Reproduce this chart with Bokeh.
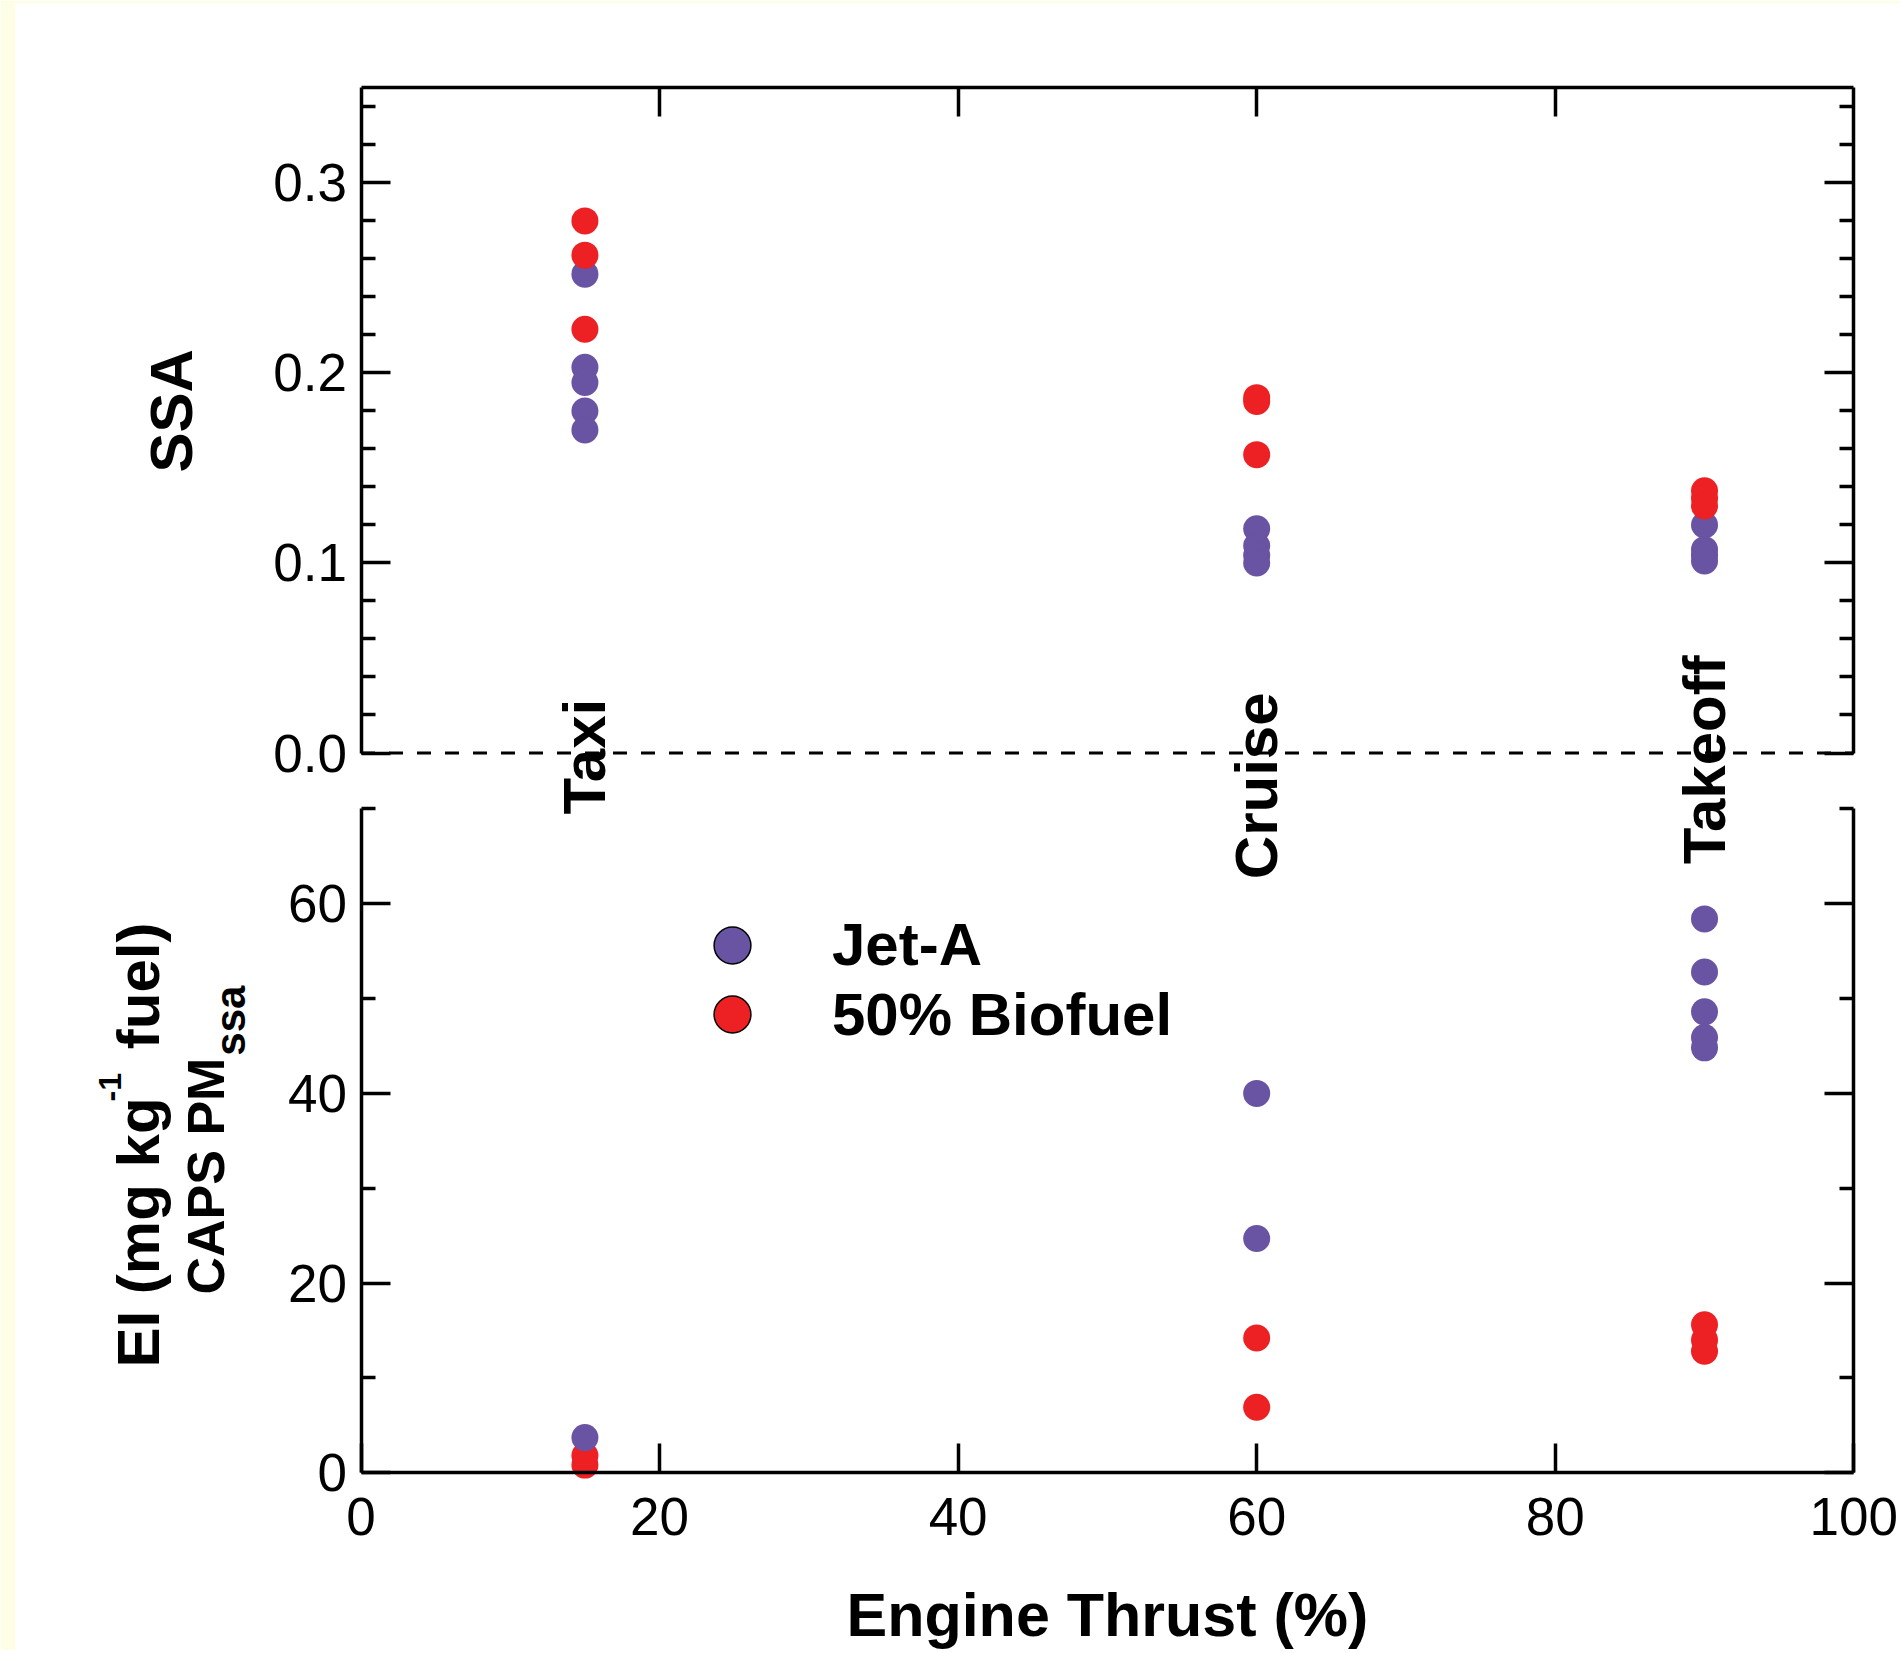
from bokeh.plotting import figure
from bokeh.models import (Range1d, LinearAxis, FixedTicker, CustomJSTickFormatter,
                          PrintfTickFormatter, BoxAnnotation, Label, Legend, LegendItem,
                          ColumnDataSource)
from bokeh.embed import file_html
from bokeh.resources import INLINE
import math

# ---------------- data ----------------
mode_names = ["Taxi", "Cruise", "Takeoff"]
mode_thrust = [15, 60, 90]

# SSA (upper panel)
ssa_jet_taxi = [0.252, 0.203, 0.195, 0.180, 0.170]
ssa_jet_cruise = [0.118, 0.109, 0.104, 0.100]
ssa_jet_takeoff = [0.120, 0.107, 0.104, 0.101]
ssa_bio_taxi = [0.280, 0.262, 0.223]
ssa_bio_cruise = [0.187, 0.185, 0.157]
ssa_bio_takeoff = [0.138, 0.134, 0.130]

# EI of CAPS PM_ssa, mg per kg fuel (lower panel)
ei_jet_taxi = [3.7]
ei_jet_cruise = [40.0, 24.7]
ei_jet_takeoff = [58.4, 52.8, 48.6, 45.9, 44.8]
ei_bio_taxi = [1.8, 0.8]
ei_bio_cruise = [14.2, 6.9]
ei_bio_takeoff = [15.6, 14.0, 12.8]

x_ticks = [0, 20, 40, 60, 80, 100]
x_inner_ticks = [20, 40, 60, 80]
ssa_major_ticks = [0.0, 0.1, 0.2, 0.3]
ssa_minor_ticks = [0.02, 0.04, 0.06, 0.08, 0.12, 0.14, 0.16, 0.18,
                   0.22, 0.24, 0.26, 0.28, 0.32, 0.34]
ei_major_ticks = [0, 20, 40, 60]
ei_minor_ticks = [10, 30, 50, 70]

series_labels = ["Jet-A", "50% Biofuel"]

# ---------------- style / layout ----------------
JET_COLOR = "#6953A3"
BIO_COLOR = "#ED2024"
EDGE_COLOR = "#FEFEE6"
FONT = "Liberation Sans"
LW = 3.5

W, H = 1900, 1650
X_MIN, X_MAX = 0, 100
SSA_MAX = 0.35
EI_MAX = 70
# pixel positions of the panel edges on the page
PX_X0, PX_X100 = 360.5, 1853.3
PX_EI0, PX_EITOP = 1472.2, 808.4
PX_SSA0, PX_SSATOP = 752.5, 87.4

x_per = (PX_X100 - PX_X0) / (X_MAX - X_MIN)
ei_per = (PX_EI0 - PX_EITOP) / EI_MAX
ssa_per = (PX_SSA0 - PX_SSATOP) / SSA_MAX

x_range = Range1d(X_MIN - PX_X0 / x_per, X_MAX + (W - PX_X100) / x_per)
ei_range = Range1d(-(H - PX_EI0) / ei_per, PX_EI0 / ei_per)
ssa_range = Range1d(-(H - PX_SSA0) / ssa_per, PX_SSA0 / ssa_per)

p = figure(width=W, height=H, x_range=x_range, y_range=ei_range,
           output_backend="svg", toolbar_location=None,
           x_axis_location=None, y_axis_location=None,
           min_border=0, min_border_left=0, min_border_right=0,
           min_border_top=0, min_border_bottom=0)
p.extra_y_ranges = {"ssa": ssa_range}
p.outline_line_color = None
p.background_fill_color = "white"
p.border_fill_color = "white"
p.grid.visible = False

# pale page edge of the original figure
p.add_layout(BoxAnnotation(right=x_range.start + 15 / x_per, fill_color=EDGE_COLOR,
                           fill_alpha=1, line_color=None, level="underlay"))
p.add_layout(BoxAnnotation(bottom=ei_range.end - 3 / ei_per, fill_color=EDGE_COLOR,
                           fill_alpha=1, line_color=None, level="underlay"))

tick_kw = dict(major_tick_in=29, major_tick_out=0, minor_tick_in=14, minor_tick_out=0,
               major_tick_line_width=LW, minor_tick_line_width=LW,
               major_tick_line_color="black", minor_tick_line_color="black",
               axis_line_width=LW, axis_line_color="black",
               major_label_text_font=FONT, major_label_text_font_size="53px",
               major_label_text_color="black")
blank_fmt = CustomJSTickFormatter(code="return '';")

ei_ticker = FixedTicker(ticks=ei_major_ticks, minor_ticks=ei_minor_ticks)
ssa_ticker = FixedTicker(ticks=ssa_major_ticks, minor_ticks=ssa_minor_ticks)
x_ticker = FixedTicker(ticks=x_ticks, minor_ticks=[])
x_inner_ticker = FixedTicker(ticks=x_inner_ticks, minor_ticks=[])

# lower panel (EI)
p.add_layout(LinearAxis(ticker=ei_ticker, fixed_location=X_MIN, bounds=(0, EI_MAX),
                        major_label_standoff=14, **tick_kw), "left")
p.add_layout(LinearAxis(ticker=ei_ticker, formatter=blank_fmt, fixed_location=X_MAX,
                        bounds=(0, EI_MAX), major_label_standoff=0, **tick_kw), "right")
p.add_layout(LinearAxis(ticker=x_ticker, fixed_location=0, bounds=(X_MIN, X_MAX),
                        major_label_standoff=25, **tick_kw), "below")

# upper panel (SSA)
p.add_layout(LinearAxis(ticker=ssa_ticker, formatter=PrintfTickFormatter(format="%.1f"),
                        y_range_name="ssa", fixed_location=X_MIN, bounds=(0, SSA_MAX),
                        major_label_standoff=14, **tick_kw), "left")
p.add_layout(LinearAxis(ticker=ssa_ticker, formatter=blank_fmt, y_range_name="ssa",
                        fixed_location=X_MAX, bounds=(0, SSA_MAX),
                        major_label_standoff=0, **tick_kw), "right")
p.add_layout(LinearAxis(ticker=x_inner_ticker, formatter=blank_fmt, y_range_name="ssa",
                        fixed_location=SSA_MAX, bounds=(X_MIN, X_MAX),
                        major_label_standoff=0, **tick_kw), "above")

# dashed zero line of the SSA panel
zero_line = ColumnDataSource(dict(x0=[X_MIN], y0=[0], x1=[X_MAX], y1=[0]))
p.segment("x0", "y0", "x1", "y1", source=zero_line, y_range_name="ssa",
          line_color="black", line_width=3, line_dash="14 14")


def xs_for(vals_by_mode):
    xs, ys = [], []
    for thrust, vals in zip(mode_thrust, vals_by_mode):
        xs += [thrust] * len(vals)
        ys += vals
    return xs, ys


sx_j, sy_j = xs_for([ssa_jet_taxi, ssa_jet_cruise, ssa_jet_takeoff])
sx_b, sy_b = xs_for([ssa_bio_taxi, ssa_bio_cruise, ssa_bio_takeoff])
ex_j, ey_j = xs_for([ei_jet_taxi, ei_jet_cruise, ei_jet_takeoff])
ex_b, ey_b = xs_for([ei_bio_taxi, ei_bio_cruise, ei_bio_takeoff])

MS = 27
p.scatter(sx_j, sy_j, size=MS, fill_color=JET_COLOR, line_color=None, y_range_name="ssa")
p.scatter(sx_b, sy_b, size=MS, fill_color=BIO_COLOR, line_color=None, y_range_name="ssa")
p.scatter(ex_b, ey_b, size=MS, fill_color=BIO_COLOR, line_color=None)
p.scatter(ex_j, ey_j, size=MS, fill_color=JET_COLOR, line_color=None)

# legend swatches (outlined; not drawn in the plot area)
nan = float("nan")
leg_jet = p.scatter([nan], [nan], size=MS, fill_color=JET_COLOR, line_color="black", line_width=1.5)
leg_bio = p.scatter([nan], [nan], size=MS, fill_color=BIO_COLOR, line_color="black", line_width=1.5)
leg_kw = dict(orientation="vertical", glyph_width=92, glyph_height=92, label_standoff=54,
              padding=0, margin=0, border_line_color=None, background_fill_alpha=0,
              label_text_font=FONT, label_text_font_size="60px", label_text_font_style="bold",
              label_text_color="black")
p.add_layout(Legend(items=[LegendItem(label=series_labels[0], renderers=[leg_jet])],
                    location=(686.0, H - 990.7), **leg_kw))
p.add_layout(Legend(items=[LegendItem(label=series_labels[1], renderers=[leg_bio])],
                    location=(686.0, H - 1060.0), **leg_kw))

rot = dict(text_font=FONT, text_font_style="bold", text_color="black",
           angle=math.pi / 2, text_align="left", text_baseline="alphabetic")

# operating-mode labels
mode_offsets = [-61.4, -126.2, -111.2]
for name, thrust, dy in zip(mode_names, mode_thrust, mode_offsets):
    p.add_layout(Label(x=thrust, y=0, y_range_name="ssa", y_offset=dy,
                       text=name, text_font_size="60px", **rot))

# y titles
p.add_layout(Label(x=X_MIN, y=0, y_range_name="ssa", x_offset=-189.7, y_offset=280.5,
                   text="SSA", text_font_size="60px", **rot))
p.add_layout(Label(x=X_MIN, y=0, x_offset=-222.2, y_offset=105.2,
                   text="EI (mg kg", text_font_size="60px", **rot))
p.add_layout(Label(x=X_MIN, y=0, x_offset=-251.3, y_offset=371.2,
                   text="-1", text_font_size="32px", **rot))
p.add_layout(Label(x=X_MIN, y=0, x_offset=-222.2, y_offset=423.5,
                   text="fuel)", text_font_size="60px", **rot))
p.add_layout(Label(x=X_MIN, y=0, x_offset=-154.6, y_offset=178.2,
                   text="CAPS PM", text_font_size="52px", **rot))
p.add_layout(Label(x=X_MIN, y=0, x_offset=-130.3, y_offset=417.0,
                   text="ssa", text_font_size="42px", **rot))

# x title
p.add_layout(Label(x=(X_MIN + X_MAX) / 2, y=0, y_offset=-142.1, text="Engine Thrust (%)",
                   text_font=FONT, text_font_style="bold", text_font_size="61px",
                   text_color="black", text_align="center", text_baseline="alphabetic"))

open("out.html", "w").write(file_html(p, INLINE))
